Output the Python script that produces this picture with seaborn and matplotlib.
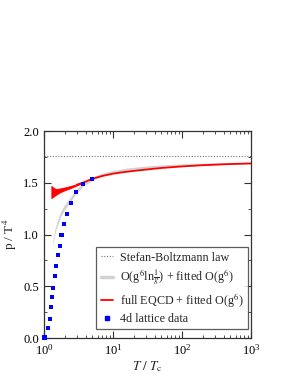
import numpy as np
import pandas as pd
import matplotlib
matplotlib.use("Agg")
import matplotlib.pyplot as plt
import seaborn as sns
from matplotlib.ticker import MultipleLocator, LogLocator, NullFormatter
from matplotlib.lines import Line2D

# ---- data ----
lattice_T = [1.02, 1.14, 1.21, 1.26, 1.31, 1.36, 1.43, 1.51, 1.60, 1.69,
             1.80, 1.95, 2.15, 2.46, 2.94, 3.67, 4.91]
lattice_p = [0.005, 0.094, 0.184, 0.30, 0.396, 0.483, 0.596, 0.696, 0.799,
             0.889, 0.998, 1.10, 1.198, 1.304, 1.408, 1.485, 1.536]

sb_value = 1.755

gray_T = [1.33, 1.45, 1.56, 1.75, 1.95, 2.3, 2.6, 3.0, 3.7, 5.2, 7.0, 10.0,
          17.0, 35.0, 70.0, 150.0, 400.0, 1000.0]
gray_p = [0.91, 1.04, 1.11, 1.20, 1.255, 1.32, 1.37, 1.425, 1.485, 1.545,
          1.578, 1.605, 1.632, 1.654, 1.667, 1.677, 1.686, 1.691]
gray_halfwidth = [0.012, 0.022, 0.025, 0.025, 0.024, 0.022, 0.02, 0.018,
                  0.017, 0.016, 0.015, 0.014, 0.013, 0.012, 0.011, 0.01,
                  0.009, 0.008]

red_band_T = [1.28, 1.4, 1.5, 1.7, 2.0, 2.5, 3.0, 3.6]
red_band_hi = [1.470, 1.448, 1.440, 1.445, 1.455, 1.472, 1.487, 1.50]
red_band_lo = [1.352, 1.370, 1.385, 1.407, 1.428, 1.452, 1.475, 1.497]

red_T = [3.0, 3.8, 5.0, 7.0, 10.0, 15.0, 25.0, 50.0, 100.0, 200.0, 500.0, 1000.0]
red_p = [1.482, 1.505, 1.538, 1.566, 1.588, 1.605, 1.622, 1.643, 1.658,
         1.670, 1.681, 1.687]

xticks = [1, 10, 100, 1000]
yticks = [0.0, 0.5, 1.0, 1.5, 2.0]

labels = ["Stefan-Boltzmann law",
          r"O(g$^{6}$ln$\frac{1}{g}$) + fitted O(g$^{6}$)",
          r"full EQCD + fitted O(g$^{6}$)",
          "4d lattice data"]

# ---- style ----
sns.set_style("ticks")
plt.rcParams["font.family"] = ["Liberation Serif", "DejaVu Serif"]
plt.rcParams["mathtext.fontset"] = "stix"

fig = plt.figure(figsize=(2.95, 3.82), dpi=100)
ax = fig.add_axes([0.149, 0.115, 0.702, 0.542])

ghw = np.array(gray_halfwidth)
ax.fill_between(gray_T, np.array(gray_p) - ghw, np.array(gray_p) + ghw,
                color="#d2d2d2", linewidth=0, zorder=1)

ax.axhline(sb_value, color="#777777", linestyle=(0, (1, 1.5)), linewidth=0.8, zorder=1)

ax.fill_between(red_band_T, red_band_lo, red_band_hi, color="#ff0000",
                linewidth=0.6, edgecolor="#ff0000", zorder=2)
rdf = pd.DataFrame({"T": red_T, "p": red_p})
sns.lineplot(data=rdf, x="T", y="p", color="#ff0000", linewidth=1.3, ax=ax, zorder=3)

ldf = pd.DataFrame({"T": lattice_T, "p": lattice_p})
sns.scatterplot(data=ldf, x="T", y="p", marker="s", s=9, color="#0000ff",
                edgecolor="none", ax=ax, zorder=4, clip_on=False)

ax.set_xscale("log")
ax.set_xlim(1, 1000)
ax.set_ylim(0, 2)
ax.set_xticks(xticks)
ax.set_yticks(yticks)
ax.set_yticklabels([f"{v:.1f}" for v in yticks])
ax.xaxis.set_minor_locator(LogLocator(base=10, subs=np.arange(2, 10)))
ax.xaxis.set_minor_formatter(NullFormatter())
ax.yaxis.set_minor_locator(MultipleLocator(0.25))

ax.tick_params(which="both", direction="in", top=True, right=True,
               colors="#333333", labelcolor="black")
ax.tick_params(which="major", length=5, width=0.8, labelsize=9)
ax.tick_params(which="minor", length=2.5, width=0.6)
for sp in ax.spines.values():
    sp.set_linewidth(0.9)
    sp.set_color("#333333")

ax.set_xlabel(r"$T\ /\ T_{\rm c}$", fontsize=9.5, labelpad=1)
ax.set_ylabel(r"p / T$^{4}$", fontsize=9.5, labelpad=3)

handles = [
    Line2D([], [], color="#777777", linestyle=(0, (1, 1.5)), linewidth=0.8),
    Line2D([], [], color="#d2d2d2", linewidth=2.5),
    Line2D([], [], color="#ff0000", linewidth=1.3),
    Line2D([], [], color="#0000ff", marker="s", markersize=3, linestyle="none"),
]
leg = ax.legend(handles, labels, loc="lower right", bbox_to_anchor=(0.985, 0.043),
                fontsize=8.7, frameon=True, fancybox=False, handlelength=1.0,
                handletextpad=0.6, borderpad=0.35, labelspacing=0.3,
                borderaxespad=0)
leg.get_frame().set_edgecolor("#333333")
leg.get_frame().set_linewidth(0.9)

fig.savefig("out.png", dpi=100, facecolor="white")
